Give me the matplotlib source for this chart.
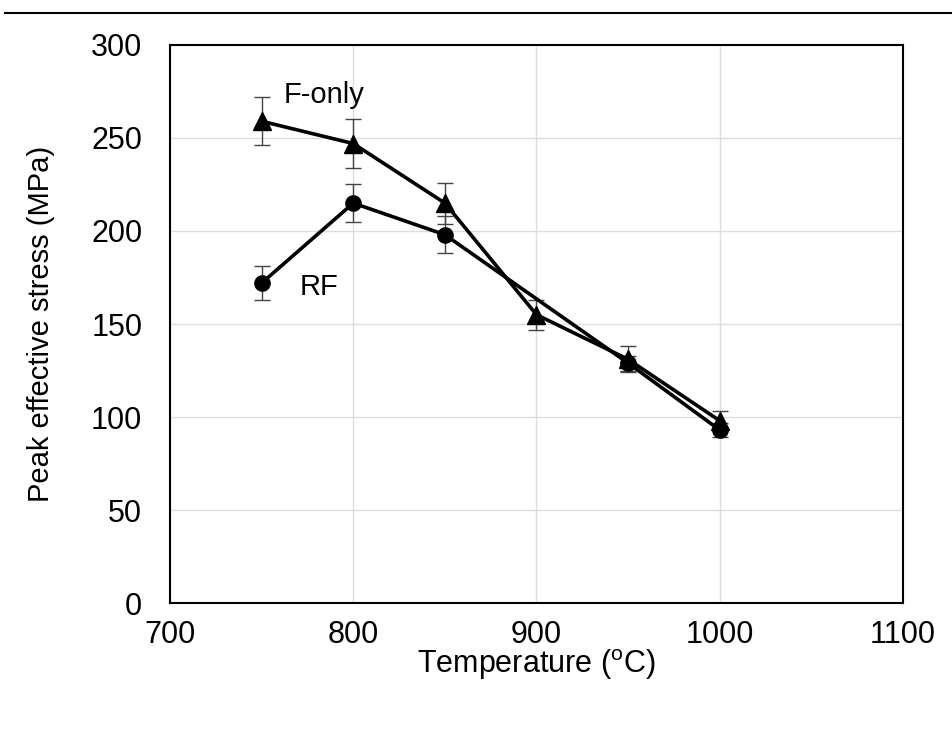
import matplotlib
matplotlib.use('Agg')
from matplotlib import pyplot as plt
from matplotlib.lines import Line2D

plt.rcParams['font.family'] = ['Liberation Sans', 'DejaVu Sans']
plt.rcParams['mathtext.fontset'] = 'custom'
plt.rcParams['mathtext.rm'] = 'Liberation Sans'

# F-only series
f_temps = [750, 800, 850, 900, 950, 1000]
f_only = [259, 247, 215, 155, 131, 98]
f_only_err = [13, 13, 11, 8, 7, 5]
# RF series (no point at 900)
rf_temps = [750, 800, 850, 950, 1000]
rf = [172, 215, 198, 129, 93]
rf_err = [9, 10, 10, 4, 4]

fig = plt.figure(figsize=(9.52, 7.29), dpi=100)
ax = fig.add_axes([0.1786, 0.1728, 0.7699, 0.7655])

ax.errorbar(rf_temps, rf, yerr=rf_err, color='black', linewidth=2.6,
            marker='o', markersize=11, ecolor='#444444', elinewidth=1,
            capsize=6, capthick=1, zorder=3)
ax.errorbar(f_temps, f_only, yerr=f_only_err, color='black', linewidth=2.6,
            marker='^', markersize=13, ecolor='#444444', elinewidth=1,
            capsize=6, capthick=1, zorder=3)

ax.text(762, 273, 'F-only', fontsize=21, ha='left', va='center')
ax.text(771, 170, 'RF', fontsize=21, ha='left', va='center')

ax.set_xlim(700, 1100)
ax.set_ylim(0, 300)
ax.set_xticks([700, 800, 900, 1000, 1100])
ax.set_yticks([0, 50, 100, 150, 200, 250, 300])
ax.grid(True, color='#dddddd', linewidth=1)
ax.set_axisbelow(True)
ax.tick_params(length=0, labelsize=22)
ax.tick_params(axis='y', pad=20)
ax.tick_params(axis='x', pad=12)
for spine in ax.spines.values():
    spine.set_linewidth(1.5)
    spine.set_color('black')

ax.set_xlabel('Temperature ($^{\\mathregular{o}}$C)', fontsize=22, labelpad=-2)
ax.set_ylabel('Peak effective stress (MPa)', fontsize=21, labelpad=26)

fig.add_artist(Line2D([0.005, 1.0], [1 - 13 / 729, 1 - 13 / 729],
                      color='black', linewidth=1.5, transform=fig.transFigure))

plt.savefig('out.png', dpi=100)
plt.close('all')
